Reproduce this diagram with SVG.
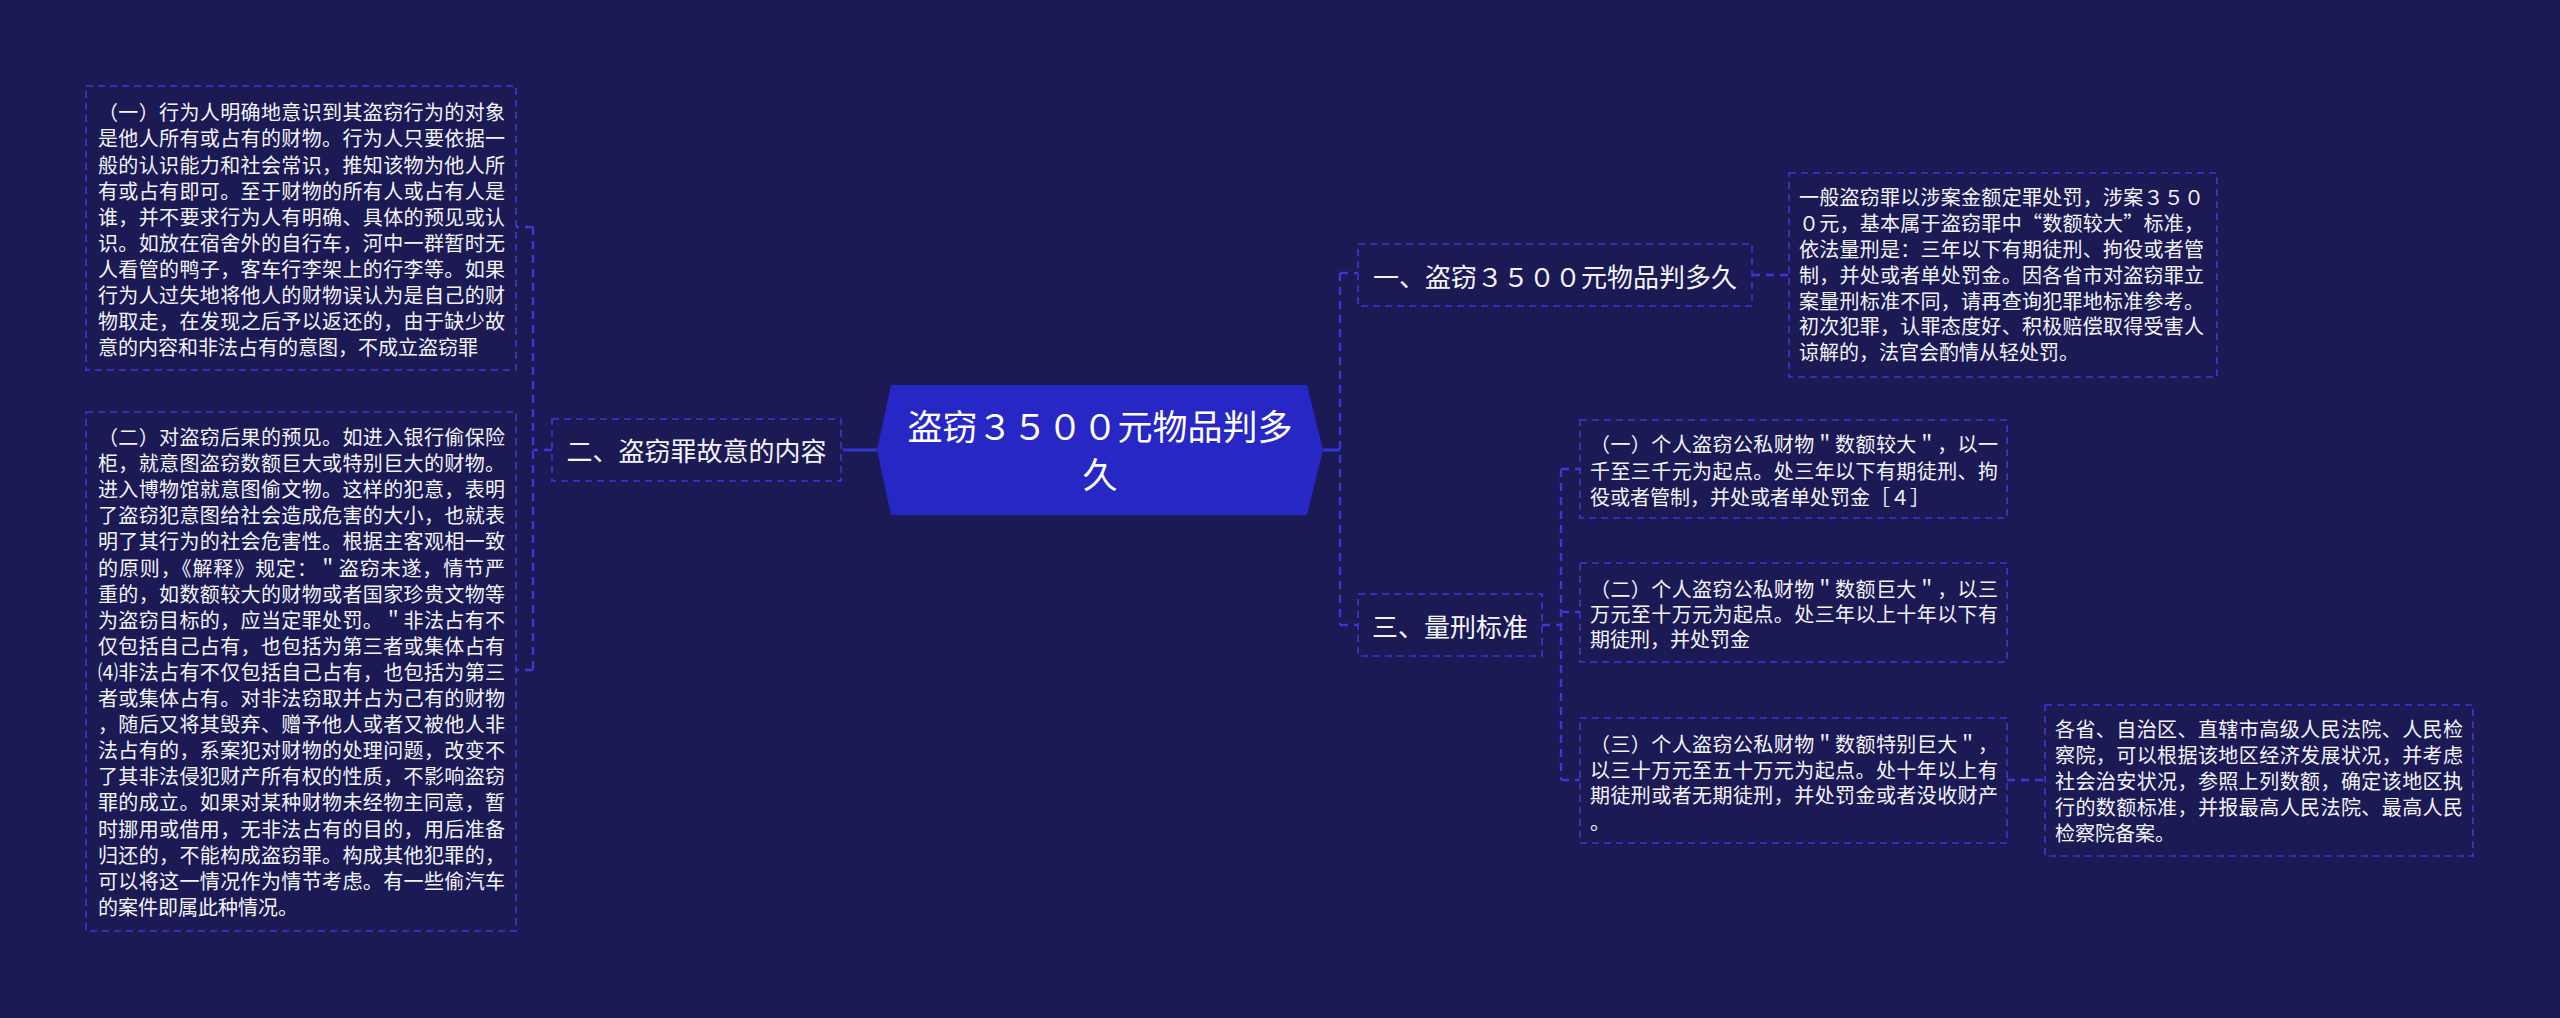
<svg xmlns="http://www.w3.org/2000/svg" width="2560" height="1018" viewBox="0 0 2560 1018">
<style>
.bg{fill:#1b1a55}
.box{fill:#1b1a55;stroke:#3a3ad2;stroke-width:1.6;stroke-dasharray:7 5}
.con{fill:none;stroke:#3a3ad2;stroke-width:2.4;stroke-dasharray:8 6}
.solid{fill:none;stroke:#3535d0;stroke-width:3}
.t{font-family:"Noto Sans CJK SC","Noto Sans",sans-serif;fill:#f4f4f8;font-size:20px}
.n{font-family:"Noto Sans CJK SC","Noto Sans",sans-serif;fill:#f4f4f8;font-size:26px;text-anchor:middle}
.c{font-family:"Noto Sans CJK SC","Noto Sans",sans-serif;fill:#ffffff;font-size:35px;text-anchor:middle}
</style>
<rect class="bg" x="0" y="0" width="2560" height="1018"/>
<g id="connectors">
<path class="solid" d="M843 450 H877"/>
<path class="con" d="M552 450 H533 M533 227 V670 M533 227 H516 M533 670 H516"/>
<path class="solid" d="M1321 450 H1340"/>
<path class="con" d="M1340 273 V625 M1340 273 H1358 M1340 625 H1358"/>
<path class="con" d="M1752 275 H1789"/>
<path class="con" d="M1542 625 H1561 M1561 469 V780 M1561 469 H1580 M1561 612 H1580 M1561 780 H1580"/>
<path class="con" d="M2007 780 H2045"/>
</g>
<g id="center">
<polygon points="891,385 1307,385 1323,450 1307,515 891,515 877,450" fill="#2727c6"/>
<text class="c" x="1100" y="440">盗窃３５００元物品判多</text>
<text class="c" x="1100" y="488">久</text>
</g>
<g id="node-left">
<rect class="box" x="552" y="419" width="289" height="62"/>
<text class="n" x="696.5" y="461">二、盗窃罪故意的内容</text>
</g>
<g id="node-left-1">
<rect class="box" x="86" y="86" width="430" height="284"/>
<text class="t" x="98" y="120.3" textLength="407" lengthAdjust="spacing">（一）行为人明确地意识到其盗窃行为的对象</text>
<text class="t" x="98" y="146.4" textLength="407" lengthAdjust="spacing">是他人所有或占有的财物。行为人只要依据一</text>
<text class="t" x="98" y="172.5" textLength="407" lengthAdjust="spacing">般的认识能力和社会常识，推知该物为他人所</text>
<text class="t" x="98" y="198.6" textLength="407" lengthAdjust="spacing">有或占有即可。至于财物的所有人或占有人是</text>
<text class="t" x="98" y="224.7" textLength="407" lengthAdjust="spacing">谁，并不要求行为人有明确、具体的预见或认</text>
<text class="t" x="98" y="250.8" textLength="407" lengthAdjust="spacing">识。如放在宿舍外的自行车，河中一群暂时无</text>
<text class="t" x="98" y="276.9" textLength="407" lengthAdjust="spacing">人看管的鸭子，客车行李架上的行李等。如果</text>
<text class="t" x="98" y="303" textLength="407" lengthAdjust="spacing">行为人过失地将他人的财物误认为是自己的财</text>
<text class="t" x="98" y="329.1" textLength="407" lengthAdjust="spacing">物取走，在发现之后予以返还的，由于缺少故</text>
<text class="t" x="98" y="355.2">意的内容和非法占有的意图，不成立盗窃罪</text>
</g>
<g id="node-left-2">
<rect class="box" x="86" y="412" width="430" height="519"/>
<text class="t" x="98" y="445" textLength="407" lengthAdjust="spacing">（二）对盗窃后果的预见。如进入银行偷保险</text>
<text class="t" x="98" y="471.1" textLength="407" lengthAdjust="spacing">柜，就意图盗窃数额巨大或特别巨大的财物。</text>
<text class="t" x="98" y="497.2" textLength="407" lengthAdjust="spacing">进入博物馆就意图偷文物。这样的犯意，表明</text>
<text class="t" x="98" y="523.3" textLength="407" lengthAdjust="spacing">了盗窃犯意图给社会造成危害的大小，也就表</text>
<text class="t" x="98" y="549.4" textLength="407" lengthAdjust="spacing">明了其行为的社会危害性。根据主客观相一致</text>
<text class="t" x="98" y="575.5" textLength="407" lengthAdjust="spacing">的原则，《解释》规定：＂盗窃未遂，情节严</text>
<text class="t" x="98" y="601.6" textLength="407" lengthAdjust="spacing">重的，如数额较大的财物或者国家珍贵文物等</text>
<text class="t" x="98" y="627.7" textLength="407" lengthAdjust="spacing">为盗窃目标的，应当定罪处罚。＂非法占有不</text>
<text class="t" x="98" y="653.8" textLength="407" lengthAdjust="spacing">仅包括自己占有，也包括为第三者或集体占有</text>
<text class="t" x="98" y="679.9" textLength="407" lengthAdjust="spacing">⑷非法占有不仅包括自己占有，也包括为第三</text>
<text class="t" x="98" y="706" textLength="407" lengthAdjust="spacing">者或集体占有。对非法窃取并占为己有的财物</text>
<text class="t" x="98" y="732.1" textLength="407" lengthAdjust="spacing">，随后又将其毁弃、赠予他人或者又被他人非</text>
<text class="t" x="98" y="758.2" textLength="407" lengthAdjust="spacing">法占有的，系案犯对财物的处理问题，改变不</text>
<text class="t" x="98" y="784.3" textLength="407" lengthAdjust="spacing">了其非法侵犯财产所有权的性质，不影响盗窃</text>
<text class="t" x="98" y="810.4" textLength="407" lengthAdjust="spacing">罪的成立。如果对某种财物未经物主同意，暂</text>
<text class="t" x="98" y="836.5" textLength="407" lengthAdjust="spacing">时挪用或借用，无非法占有的目的，用后准备</text>
<text class="t" x="98" y="862.6" textLength="407" lengthAdjust="spacing">归还的，不能构成盗窃罪。构成其他犯罪的，</text>
<text class="t" x="98" y="888.7" textLength="407" lengthAdjust="spacing">可以将这一情况作为情节考虑。有一些偷汽车</text>
<text class="t" x="98" y="914.8">的案件即属此种情况。</text>
</g>
<g id="node-right-1">
<rect class="box" x="1358" y="244" width="394" height="62"/>
<text class="n" x="1555" y="286.5">一、盗窃３５００元物品判多久</text>
</g>
<g id="node-right-1-1">
<rect class="box" x="1789" y="173" width="428" height="204"/>
<text class="t" x="1799" y="205.3" textLength="405" lengthAdjust="spacing">一般盗窃罪以涉案金额定罪处罚，涉案３５０</text>
<text class="t" x="1799" y="231.1" textLength="405" lengthAdjust="spacing">０元，基本属于盗窃罪中“数额较大”标准，</text>
<text class="t" x="1799" y="256.9" textLength="405" lengthAdjust="spacing">依法量刑是：三年以下有期徒刑、拘役或者管</text>
<text class="t" x="1799" y="282.7" textLength="405" lengthAdjust="spacing">制，并处或者单处罚金。因各省市对盗窃罪立</text>
<text class="t" x="1799" y="308.5" textLength="405" lengthAdjust="spacing">案量刑标准不同，请再查询犯罪地标准参考。</text>
<text class="t" x="1799" y="334.3" textLength="405" lengthAdjust="spacing">初次犯罪，认罪态度好、积极赔偿取得受害人</text>
<text class="t" x="1799" y="360.1">谅解的，法官会酌情从轻处罚。</text>
</g>
<g id="node-right-3">
<rect class="box" x="1358" y="594" width="184" height="62"/>
<text class="n" x="1450" y="636.5">三、量刑标准</text>
</g>
<g id="node-right-3-1">
<rect class="box" x="1580" y="420" width="427" height="98"/>
<text class="t" x="1590" y="452" textLength="408" lengthAdjust="spacing">（一）个人盗窃公私财物＂数额较大＂，以一</text>
<text class="t" x="1590" y="478.5" textLength="408" lengthAdjust="spacing">千至三千元为起点。处三年以下有期徒刑、拘</text>
<text class="t" x="1590" y="505">役或者管制，并处或者单处罚金［４］</text>
</g>
<g id="node-right-3-2">
<rect class="box" x="1580" y="563" width="427" height="99"/>
<text class="t" x="1590" y="597" textLength="408" lengthAdjust="spacing">（二）个人盗窃公私财物＂数额巨大＂，以三</text>
<text class="t" x="1590" y="622" textLength="408" lengthAdjust="spacing">万元至十万元为起点。处三年以上十年以下有</text>
<text class="t" x="1590" y="647">期徒刑，并处罚金</text>
</g>
<g id="node-right-3-3">
<rect class="box" x="1580" y="718" width="427" height="125"/>
<text class="t" x="1590" y="752" textLength="408" lengthAdjust="spacing">（三）个人盗窃公私财物＂数额特别巨大＂，</text>
<text class="t" x="1590" y="777.5" textLength="408" lengthAdjust="spacing">以三十万元至五十万元为起点。处十年以上有</text>
<text class="t" x="1590" y="803" textLength="408" lengthAdjust="spacing">期徒刑或者无期徒刑，并处罚金或者没收财产</text>
<text class="t" x="1590" y="829.5">。</text>
</g>
<g id="node-right-3-3-1">
<rect class="box" x="2045" y="705" width="428" height="151"/>
<text class="t" x="2055" y="737" textLength="408" lengthAdjust="spacing">各省、自治区、直辖市高级人民法院、人民检</text>
<text class="t" x="2055" y="763" textLength="408" lengthAdjust="spacing">察院，可以根据该地区经济发展状况，并考虑</text>
<text class="t" x="2055" y="789" textLength="408" lengthAdjust="spacing">社会治安状况，参照上列数额，确定该地区执</text>
<text class="t" x="2055" y="815" textLength="408" lengthAdjust="spacing">行的数额标准，并报最高人民法院、最高人民</text>
<text class="t" x="2055" y="841">检察院备案。</text>
</g>
</svg>
